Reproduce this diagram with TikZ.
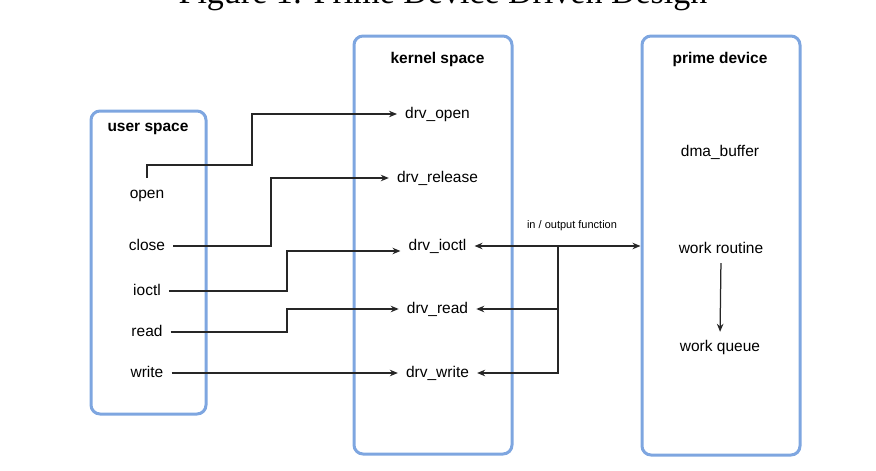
\documentclass[tikz,border=0pt]{standalone}
\usepackage{fontspec}
\setmainfont{Liberation Sans}
\newfontfamily\capfont{Liberation Serif}
\usetikzlibrary{calc,positioning,arrows.meta}
\definecolor{boxblue}{HTML}{7EA6E0}
\tikzset{
  line/.style={-{Stealth[length=8pt,width=6.5pt]}, line width=1.25pt, draw=black!85},
  dline/.style={line, {Stealth[length=8pt,width=6.5pt]}-{Stealth[length=8pt,width=6.5pt]}},
  spacebox/.style={draw=boxblue, line width=3pt, rounded corners=9pt},
  head/.style={font=\bfseries\fontsize{15.5}{18}\selectfont},
  fn/.style={font=\fontsize{15.5}{18}\selectfont, text height=11pt, text depth=3pt, inner xsep=8pt, inner ysep=3pt},
  note/.style={font=\fontsize{11}{13}\selectfont},
  figcap/.style={font=\capfont\fontsize{34}{40}\selectfont, anchor=base}
}
\begin{document}
\begin{tikzpicture}[x=1pt, y=-1pt]
  \useasboundingbox (0,0) rectangle (876,471);
  \node[figcap] (caption) at (443,4) {Figure 1: Prime Device Driven Design};

  \node[spacebox, minimum width=115pt, minimum height=303pt] (user) at (148.5,262.5) {};
  \node[spacebox, minimum width=158pt, minimum height=418pt] (kernel) at (433,245) {};
  \node[spacebox, minimum width=158pt, minimum height=419pt] (prime) at (721,245.5) {};

  \node[head] (usertitle) at (148,129) {user space};
  \node[head] (kerneltitle) at (437.5,59) {kernel space};
  \node[head] (primetitle) at (720,59) {prime device};

  \node[fn] (uopen) at (147,194) {open};
  \node[fn] (uclose) at (147,246) {close};
  \node[fn] (uioctl) at (147,291) {ioctl};
  \node[fn] (uread) at (147,332) {read};
  \node[fn] (uwrite) at (147,373) {write};

  \node[fn] (kopen) at (437.5,114) {drv\_open};
  \node[fn] (krelease) at (437.5,178) {drv\_release};
  \node[fn] (kioctl) at (437.5,246) {drv\_ioctl};
  \node[fn] (kread) at (437.5,309) {drv\_read};
  \node[fn] (kwrite) at (437.5,373) {drv\_write};

  \node[fn] (dmabuf) at (720,152) {dma\_buffer};
  \node[fn] (routine) at (721,249) {work routine};
  \node[fn] (queue) at (720,347) {work queue};

  \node[note] (iolabel) at (572,226) {in / output function};
  \coordinate (split) at (558,246);

  \draw[line] ([yshift=6pt]uopen.north) |- (252,165) |- (kopen.west);
  \draw[line] (uclose.east) -- (271,246) |- (krelease.west);
  \draw[line] (uioctl.east) -- (287,291) |- ([yshift=-5pt]kioctl.west);
  \draw[line] (uread.east) -- (287,332) |- (kread.west);
  \draw[line] (uwrite.east) -- (kwrite.west);

  \draw[dline] (kioctl.east) -- (kioctl.east -| prime.west);
  \draw[line] (split) |- (kwrite.east);
  \draw[line] (split |- kread.east) -- (kread.east);
  \draw[line, shorten <=4pt, shorten >=5pt] (routine.south) -- (queue.north);
\end{tikzpicture}
\end{document}
